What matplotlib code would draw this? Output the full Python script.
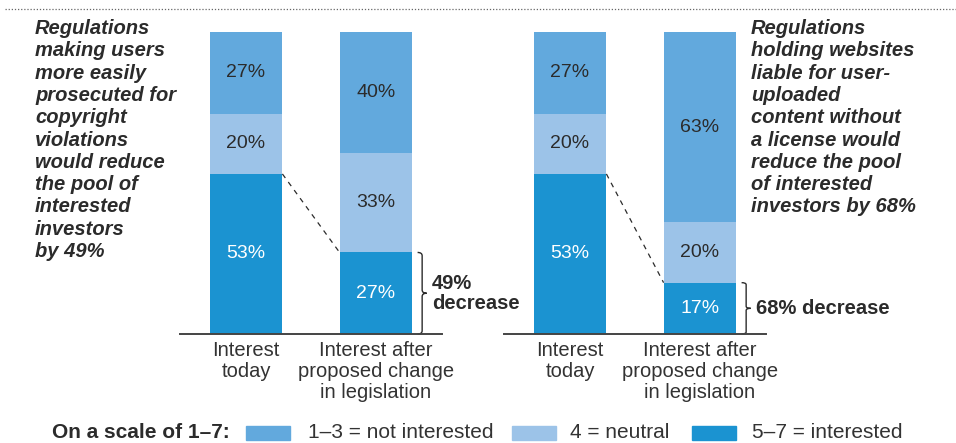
import numpy as np
import matplotlib.pyplot as plt
from matplotlib.patches import Rectangle, PathPatch
from matplotlib.path import Path
from matplotlib.lines import Line2D

W, H = 956, 443

categories = ['Interest\ntoday', 'Interest after\nproposed change\nin legislation']
# shares for [today, after], stacked bottom -> top
left_interested = [53, 27]
left_neutral = [20, 33]
left_not = [27, 40]
right_interested = [53, 17]
right_neutral = [20, 20]
right_not = [27, 63]

left_note = ('Regulations\nmaking users\nmore easily\nprosecuted for\ncopyright\n'
             'violations\nwould reduce\nthe pool of\ninterested\ninvestors\nby 49%')
right_note = ('Regulations\nholding websites\nliable for user-\nuploaded\ncontent without\n'
              'a license would\nreduce the pool\nof interested\ninvestors by 68%')
left_drop = '49%\ndecrease'
right_drop = '68% decrease'

c_not = '#62a9dd'
c_neu = '#9cc3e8'
c_int = '#1b93d1'
dark = '#2b2b2b'

plt.rcParams['font.family'] = ['Liberation Sans', 'DejaVu Sans']

fig = plt.figure(figsize=(W / 100, H / 100), dpi=100)


def fx(px):
    return px / W


def fy(py):
    return 1 - py / H


def brace(ax, x, y0, y1, w=0.07):
    ym = (y0 + y1) / 2
    c = w * 0.5
    dy = (y1 - y0) * 0.04
    verts = [(x, y0), (x + c, y0), (x + c, y0 + dy),
             (x + c, ym - dy), (x + c, ym), (x + w, ym),
             (x + c, ym), (x + c, ym + dy),
             (x + c, y1 - dy), (x + c, y1), (x, y1)]
    codes = [Path.MOVETO, Path.CURVE3, Path.CURVE3,
             Path.LINETO, Path.CURVE3, Path.CURVE3,
             Path.CURVE3, Path.CURVE3,
             Path.LINETO, Path.CURVE3, Path.CURVE3]
    ax.add_patch(PathPatch(Path(verts, codes), fill=False, ec=dark, lw=1.0,
                           clip_on=False))


def panel(x0px, interested, neutral, notint, drop_text):
    # axis spans 262 px, bar centres 130 px apart
    ax = fig.add_axes([fx(x0px), fy(334), fx(262), 302 / H])
    ax.patch.set_visible(False)
    x = np.arange(2)
    wid = 0.56
    b1 = np.array(interested)
    b2 = b1 + np.array(neutral)
    ax.bar(x, interested, wid, color=c_int)
    ax.bar(x, neutral, wid, bottom=b1, color=c_neu)
    ax.bar(x, notint, wid, bottom=b2, color=c_not)
    for i in x:
        ax.text(i, interested[i] / 2, f'{interested[i]}%', ha='center', va='center',
                color='white', fontsize=14)
        ax.text(i, b1[i] + neutral[i] / 2, f'{neutral[i]}%', ha='center', va='center',
                color=dark, fontsize=14)
        ax.text(i, b2[i] + notint[i] / 2, f'{notint[i]}%', ha='center', va='center',
                color=dark, fontsize=14)
    ax.set_xlim(-66 / 130, 196 / 130)
    ax.set_ylim(0, 100)
    ax.plot([wid / 2, 1 - wid / 2], [interested[0], interested[1]],
            ls=(0, (4, 4)), color=dark, lw=0.9)
    brace(ax, 1 + wid / 2 + 0.04, 0, interested[1])
    ax.text(1 + wid / 2 + 0.15, interested[1] / 2, drop_text, ha='left', va='center',
            fontsize=14.5, fontweight='bold', color=dark, linespacing=1.08)
    for s in ['top', 'left', 'right']:
        ax.spines[s].set_visible(False)
    ax.spines['bottom'].set_color('#444444')
    ax.spines['bottom'].set_linewidth(1.4)
    ax.set_yticks([])
    ax.set_xticks(x)
    ax.set_xticklabels(categories, fontsize=14.5, color='#333333', linespacing=1.12)
    ax.tick_params(axis='x', length=0, pad=5)
    return ax


panel(180, left_interested, left_neutral, left_not, left_drop)
panel(504, right_interested, right_neutral, right_not, right_drop)

fig.text(fx(35), fy(19), left_note, ha='left', va='top', fontsize=14.5,
         fontweight='bold', style='italic', color=dark, linespacing=1.22)
fig.text(fx(751), fy(19), right_note, ha='left', va='top', fontsize=14.5,
         fontweight='bold', style='italic', color=dark, linespacing=1.22)

# dotted rule at top
fig.add_artist(Line2D([fx(5), fx(956)], [fy(9), fy(9)], ls=(0, (1, 1.5)),
                      color='#666666', lw=0.9))

# legend row
ly = fy(433)
fig.text(fx(52), ly, 'On a scale of 1–7:', ha='left', va='center', fontsize=15,
         fontweight='bold', color=dark)
legend_items = [(c_not, '1–3 = not interested', 246, 308),
                (c_neu, '4 = neutral', 512, 570),
                (c_int, '5–7 = interested', 692, 752)]
for col, lab, px, tx in legend_items:
    fig.add_artist(Rectangle((fx(px), fy(440)), fx(44), 14 / H, color=col,
                             transform=fig.transFigure))
    fig.text(fx(tx), ly, lab, ha='left', va='center', fontsize=15, color='#333333')

fig.savefig('out.png', dpi=100)
